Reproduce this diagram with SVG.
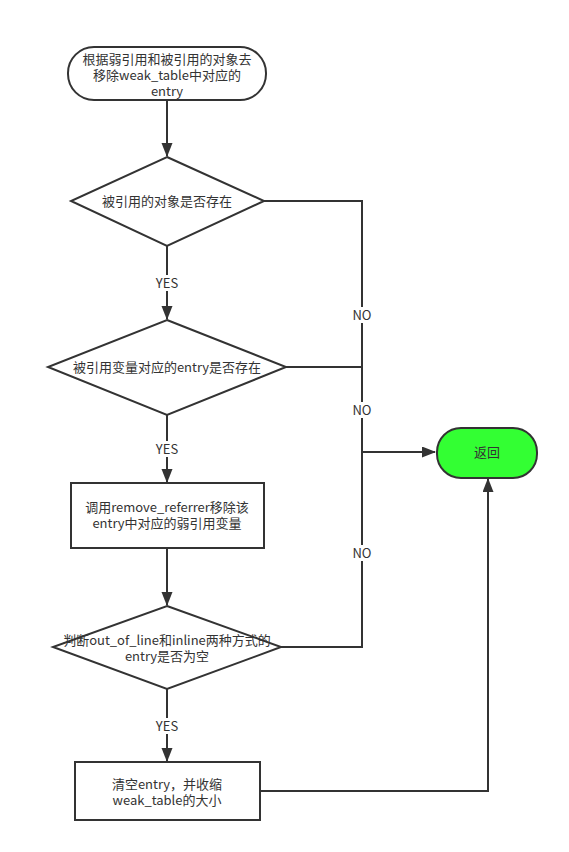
<svg xmlns="http://www.w3.org/2000/svg" width="569" height="852" viewBox="0 0 569 852">
<style>
.s{fill:#fff;stroke:#333;stroke-width:2}
.t{font-family:"Noto Sans CJK SC","Liberation Sans",sans-serif;font-size:13px;fill:#333;text-anchor:middle}
.e{fill:none;stroke:#333;stroke-width:2}
.bg{fill:#fff}
</style>
<defs>
<marker id="a" markerUnits="userSpaceOnUse" markerWidth="14" markerHeight="12" refX="13" refY="5.5" orient="auto">
<path d="M0,0 L14,5.5 L0,11 Z" fill="#333"/>
</marker>
</defs>
<rect width="569" height="852" fill="#fff"/>
<g id="edges">
<path class="e" d="M167,100 V156" marker-end="url(#a)"/>
<path class="e" d="M167,246 V319" marker-end="url(#a)"/>
<path class="e" d="M167,415 V482" marker-end="url(#a)"/>
<path class="e" d="M167,548 V605" marker-end="url(#a)"/>
<path class="e" d="M167,689 V761" marker-end="url(#a)"/>
<path class="e" d="M264,201 H362 V452"/>
<path class="e" d="M286,367 H362"/>
<path class="e" d="M281,647 H362 V452 H435" marker-end="url(#a)"/>
<path class="e" d="M260,791 H488 V479" marker-end="url(#a)"/>
<rect class="bg" x="154" y="275" width="26" height="16"/>
<text class="t" x="167" y="288">YES</text>
<rect class="bg" x="154" y="441" width="26" height="16"/>
<text class="t" x="167" y="454">YES</text>
<rect class="bg" x="154" y="718" width="26" height="16"/>
<text class="t" x="167" y="731">YES</text>
<rect class="bg" x="349" y="307" width="26" height="16"/>
<text class="t" x="362" y="320">NO</text>
<rect class="bg" x="349" y="402" width="26" height="16"/>
<text class="t" x="362" y="415">NO</text>
<rect class="bg" x="349" y="545" width="26" height="16"/>
<text class="t" x="362" y="558">NO</text>
</g>
<g id="start">
<rect class="s" x="68" y="47" width="198" height="53" rx="26" ry="26"/>
<text class="t" x="167" y="64">根据弱引用和被引用的对象去</text>
<text class="t" x="167" y="80">移除weak_table中对应的</text>
<text class="t" x="167" y="96">entry</text>
</g>
<g id="d1">
<path class="s" d="M167,157 L264,201 L167,246 L71,201 Z"/>
<text class="t" x="167" y="206">被引用的对象是否存在</text>
</g>
<g id="d2">
<path class="s" d="M167,320 L286,367 L167,415 L48,367 Z"/>
<text class="t" x="167" y="372">被引用变量对应的entry是否存在</text>
</g>
<g id="r1">
<rect class="s" x="71" y="483" width="193" height="65"/>
<text class="t" x="167" y="512">调用remove_referrer移除该</text>
<text class="t" x="167" y="528">entry中对应的弱引用变量</text>
</g>
<g id="d3">
<path class="s" d="M167,606 L281,647 L167,689 L53,647 Z"/>
<text class="t" x="167" y="645">判断out_of_line和inline两种方式的</text>
<text class="t" x="167" y="661">entry是否为空</text>
</g>
<g id="r2">
<rect class="s" x="75" y="762" width="185" height="58"/>
<text class="t" x="167" y="789">清空entry，并收缩</text>
<text class="t" x="167" y="805">weak_table的大小</text>
</g>
<g id="ret">
<rect x="437" y="428" width="100" height="50" rx="24" ry="24" fill="#33FF33" stroke="#333" stroke-width="2"/>
<text class="t" x="487" y="457">返回</text>
</g>
</svg>
